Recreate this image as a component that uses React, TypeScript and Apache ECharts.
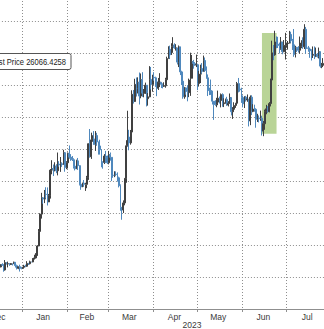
import React, { useEffect, useRef } from "react";
import * as echarts from "echarts";

// Daily candles, 2022-12-10 .. 2023-07-27
const startDate = "2022-12-10";
const firstOpen = 17090;

const closeDec = [17130,17100,17210,17780,17810,17360,16630,16780,16740,16440,16900,16820,16830,16780,16840,16830,16920,16710,16550,16640,16600,16540];
const highDec = [17220,17270,17240,18000,18390,17850,17530,16800,16860,16800,17060,16920,16960,16870,16870,16860,16960,16930,16770,16660,16770,16630];
const lowDec = [17090,17060,16880,17080,17660,17290,16580,16600,16700,16330,16400,16780,16600,16700,16760,16720,16810,16590,16470,16490,16340,16480];

const closeJan = [16610,16680,16670,16850,16830,16950,16940,17120,17190,17440,17940,18850,19930,20950,20870,21170,21160,20690,21080,22680,22780,22710,22930,22640,23060,23010,23080,23030,23770,22840,23140];
const highJan = [16630,16760,16770,16990,16880,17020,16960,17180,17390,17490,17990,19000,19980,21260,20990,21440,21610,21600,21190,22750,23300,23030,23170,23050,23780,23240,23500,23170,23950,23800,23240];
const lowJan = [16500,16550,16610,16650,16750,16790,16910,16920,17100,17150,17320,17920,18730,19650,20580,20620,20900,20470,20680,20900,22420,22310,22600,22490,22350,22890,22570,22880,23020,22580,22740];

const closeFeb = [23730,23490,23430,23330,22930,22760,23260,22960,21800,21630,21860,21790,21790,22200,24330,23520,24570,24630,24280,24840,24440,24190,23950,23200,23170,23560,23490,23140];
const highFeb = [23780,24220,23680,23560,23420,23150,23330,23440,22990,21900,21900,22060,21890,22320,24360,25250,25020,24860,25120,25120,25010,24460,24580,23990,23220,23680,23880,23590];
const lowFeb = [22780,23390,23260,23250,22780,22660,22760,22690,21720,21450,21610,21630,21380,21550,22070,23460,23380,24450,24270,23880,24200,23650,23650,22860,22770,23060,23120,23060];

const closeMar = [23650,23480,22360,22350,22430,22410,22200,21700,20360,20190,20630,22160,24200,24750,24380,25060,27420,26970,28040,27770,28170,27310,28330,27490,27490,27990,27140,27260,28350,28030,28480];
const highMar = [23880,23780,23490,22410,22610,22600,22540,22270,21790,20290,20790,22190,24550,26390,25200,25190,27670,27690,28390,28470,28480,28780,28720,28800,27750,28150,28000,27500,29180,29130,28640];
const lowMar = [23040,23270,22000,22200,22240,22300,21960,21600,20140,19580,20000,20480,21890,24150,23920,24270,25000,26840,26980,27280,27470,26780,27170,27260,27230,27440,26660,26710,27230,27720,27580];

const closeApr = [28450,28200,27800,28170,28170,28040,27920,27950,28330,29650,30230,29890,30400,30490,30320,30320,29430,30380,28820,28240,27260,27820,27590,27520,28310,28420,29470,29340,29250,29270];
const highApr = [28800,28520,28470,28440,28740,28170,28100,28170,28450,29770,30420,30460,30610,30990,30610,30550,30310,30470,30400,28890,28370,27880,27810,27990,28400,30020,29880,29570,29430,29900];
const lowApr = [28270,27880,27300,27690,27870,27810,27790,27880,27830,28190,29650,29650,29890,30010,30260,30150,29280,29120,28620,28000,27140,27140,27390,26980,27240,27320,28410,29020,29200,29120];

const closeMay = [28090,28680,29030,28850,29530,28900,28450,27690,27650,27620,26990,26800,26780,26930,27170,27030,27400,26830,26890,27100,26750,26850,27220,26330,26480,26720,26860,28090,27750,27700,27220];
const highMay = [29330,28880,29270,29370,29840,29720,29160,28660,27830,28340,27630,26960,27050,27200,27650,27280,27470,27480,27170,27150,27260,26990,27470,27220,26620,26920,26880,28190,28440,28050,27830];
const lowMay = [27680,27900,28120,28700,28840,28820,28390,27310,27370,27380,26780,25820,26700,26610,26740,26840,26600,26640,26620,26830,26700,26660,26820,26100,25880,26340,26570,26830,27540,27580,26880];

const closeJun = [26820,27250,27070,27120,25760,27240,26350,26500,26480,25850,25940,25900,25920,25120,25580,26330,26510,26340,26840,28310,30010,29890,30690,30550,30470,30270,30690,30080,30450,30480];
const highJun = [27350,27300,27320,27410,27130,27350,27360,26800,26770,26540,26200,26100,26400,26080,25750,26460,26760,26680,26930,28400,30770,30500,31390,31040,31010,30650,31000,30700,30810,31260];
const lowJun = [26600,26560,26960,26950,25410,25490,26120,26300,26330,25330,25690,25660,25760,24840,24800,25200,26170,26260,26290,26660,28270,29550,29830,30300,30310,29970,30200,29920,30050,29590];

const closeJul = [30590,30620,31160,30770,30510,29900,30350,30290,30170,30420,30620,30390,31480,30320,30290,30250,30140,29860,29910,29800,29910,29790,30080,29180,29230,29350,29220];
const highJul = [30650,30750,31380,31330,30880,31500,30450,30380,30430,31030,30800,30980,31800,31630,30390,30440,30340,30230,30410,30410,30340,29990,30340,30100,29380,29680,29570];
const lowJul = [30330,30210,30600,30640,30190,29760,29720,30060,30030,29960,30300,30260,30250,29960,30250,30080,29700,29530,29690,29620,29740,29710,29660,29080,29050,29120,29080];

const monthNames = ["Jan","Feb","Mar","Apr","May","Jun","Jul","Aug","Sep","Oct","Nov","Dec"];
const yearLabel = "2023";
const yearLabelDate = "2023-04-27";
const yearStartDate = "2023-01-01";
const legendText = "Last Price 26066.4258";
const highlightFrom = "2023-06-14";
const highlightTo = "2023-06-24";
const highlightLow = 24950;
const highlightHigh = 31250;

const closes = [...closeDec, ...closeJan, ...closeFeb, ...closeMar, ...closeApr, ...closeMay, ...closeJun, ...closeJul];
const highs = [...highDec, ...highJan, ...highFeb, ...highMar, ...highApr, ...highMay, ...highJun, ...highJul];
const lows = [...lowDec, ...lowJan, ...lowFeb, ...lowMar, ...lowApr, ...lowMay, ...lowJun, ...lowJul];

function buildDates(n: number): string[] {
  const out: string[] = [];
  const t0 = Date.parse(startDate + "T00:00:00Z");
  for (let i = 0; i < n; i++) {
    out.push(new Date(t0 + i * 86400000).toISOString().slice(0, 10));
  }
  return out;
}

const dates = buildDates(closes.length);
const ohlc = closes.map((c, i) => {
  const o = i === 0 ? firstOpen : closes[i - 1];
  return [o, c, lows[i], highs[i]];
});

const FONT = '"Liberation Sans", Arial, sans-serif';
// The chart canvas is larger than the window and shifted up/left, so that it is cropped like the reference.
const SHIFT_X = 40;
const SHIFT_Y = 20;
const W = 374;
const H = 349;

export default function App() {
  const ref = useRef<HTMLDivElement>(null);
  useEffect(() => {
    if (!ref.current) return;
    const chart = echarts.init(ref.current, undefined, { renderer: "svg" });
    const dayOf = (v: string) => parseInt(v.slice(8, 10), 10);
    const monthOf = (v: string) => parseInt(v.slice(5, 7), 10);
    const gridLeft = SHIFT_X - 10.09;
    const gridWidth = 335.5;
    const gridStyle = { color: "#8e8e8e", type: [1, 2], width: 1 };
    chart.setOption({
      animation: false,
      backgroundColor: "#ffffff",
      grid: {
        left: gridLeft,
        right: W - gridLeft - gridWidth,
        top: SHIFT_Y - 11,
        bottom: H - (SHIFT_Y + 310),
        containLabel: false,
      },
      xAxis: [
        {
          type: "category",
          data: dates,
          boundaryGap: true,
          axisLine: { show: true, lineStyle: { color: "#8f8f8f", width: 1 } },
          axisTick: {
            show: true,
            length: 3,
            interval: (_i: number, v: string) => dayOf(v) === 1,
            lineStyle: { color: "#8f8f8f" },
          },
          splitLine: {
            show: true,
            interval: (_i: number, v: string) => dayOf(v) === 1,
            lineStyle: gridStyle,
          },
          axisLabel: {
            show: true,
            interval: (_i: number, v: string) => dayOf(v) === (monthOf(v) === 2 ? 14 : 15),
            formatter: (v: string) => monthNames[monthOf(v) - 1],
            fontFamily: FONT,
            fontSize: 8.5,
            color: "#3a3a3a",
            margin: 3,
          },
        },
        {
          type: "category",
          data: dates,
          boundaryGap: true,
          position: "bottom",
          offset: 10,
          axisLine: { show: false },
          axisTick: {
            show: true,
            length: 9,
            interval: (_i: number, v: string) => v === yearStartDate,
            lineStyle: { color: "#777" },
          },
          splitLine: { show: false },
          axisLabel: {
            show: true,
            interval: (_i: number, v: string) => v === yearLabelDate,
            formatter: () => yearLabel,
            fontFamily: FONT,
            fontSize: 8.5,
            color: "#3a3a3a",
            margin: 1,
          },
        },
      ],
      yAxis: {
        type: "value",
        min: 14000,
        max: 34000,
        interval: 2000,
        position: "right",
        axisLabel: { show: false },
        axisLine: { show: false },
        axisTick: { show: false },
        splitLine: { show: true, lineStyle: gridStyle },
      },
      series: [
        {
          type: "line",
          data: [],
          z: 1,
          silent: true,
          markArea: {
            silent: true,
            itemStyle: { color: "#b9d497", opacity: 1 },
            data: [[{ xAxis: highlightFrom, yAxis: highlightLow }, { xAxis: highlightTo, yAxis: highlightHigh }]],
          },
        },
        {
          type: "candlestick",
          z: 3,
          data: ohlc,
          barWidth: 1.4,
          itemStyle: {
            color: "#404040",
            color0: "#4f88bd",
            borderColor: "#404040",
            borderColor0: "#4f88bd",
            borderWidth: 1,
          },
        },
      ],
      graphic: [
        {
          type: "rect",
          z: 100,
          shape: { x: SHIFT_X - 40, y: SHIFT_Y + 53.5, width: SHIFT_X + 71 - (SHIFT_X - 40), height: 16, r: 2 },
          style: { fill: "#ffffff", stroke: "#555", lineWidth: 1 },
        },
        {
          type: "text",
          z: 101,
          x: SHIFT_X + 66,
          y: SHIFT_Y + 62,
          scaleX: 0.84,
          style: {
            text: legendText,
            font: `9px ${FONT}`,
            fill: "#222",
            align: "right",
            verticalAlign: "middle",
            textAlign: "right",
            textVerticalAlign: "middle",
          },
        },
      ],
    });
    return () => chart.dispose();
  }, []);
  return (
    <div
      ref={ref}
      style={{ width: W, height: H, position: "absolute", left: -SHIFT_X, top: -SHIFT_Y }}
    />
  );
}
